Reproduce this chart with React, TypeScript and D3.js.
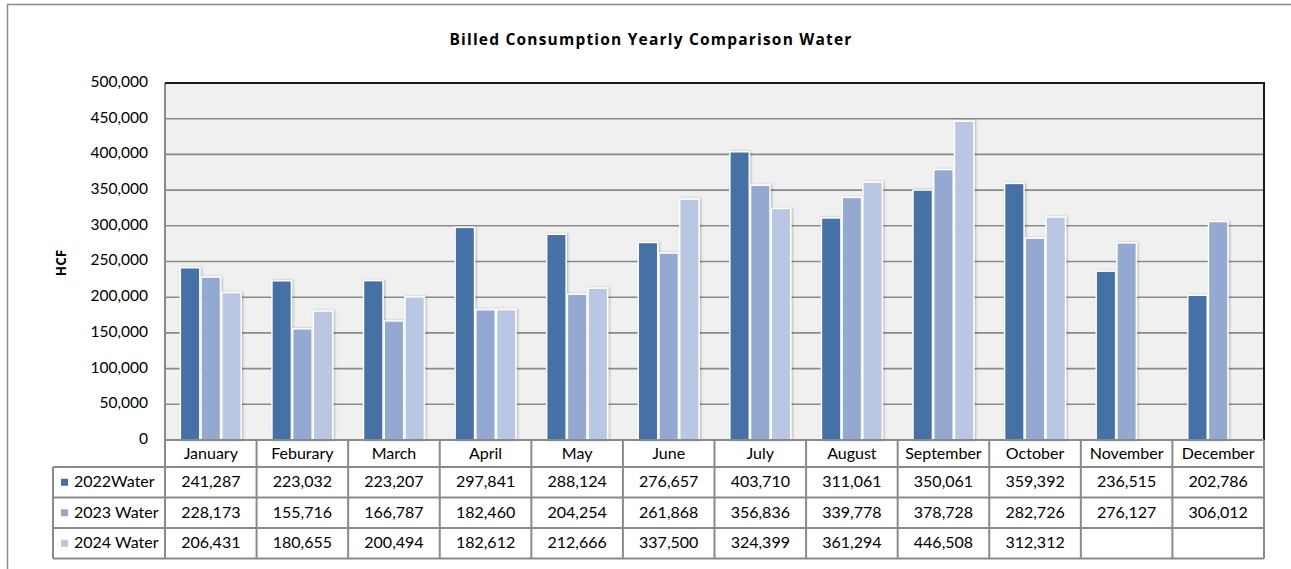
import { useRef, useEffect } from 'react';
import * as d3 from 'd3';

const months = ['January', 'Feburary', 'March', 'April', 'May', 'June', 'July', 'August', 'September', 'October', 'November', 'December'];
const seriesNames = ['2022Water', '2023 Water', '2024 Water'];
const water2022 = [241287, 223032, 223207, 297841, 288124, 276657, 403710, 311061, 350061, 359392, 236515, 202786];
const water2023 = [228173, 155716, 166787, 182460, 204254, 261868, 356836, 339778, 378728, 282726, 276127, 306012];
const water2024 = [206431, 180655, 200494, 182612, 212666, 337500, 324399, 361294, 446508, 312312, null, null];
const yTicks = [0, 50000, 100000, 150000, 200000, 250000, 300000, 350000, 400000, 450000, 500000];
const colors = ['#4571a7', '#94a9d1', '#b9c7e2'];

export default function App() {
  const svgRef = useRef(null);
  const W = 1291, H = 569;
  const font = 'Lato, "Open Sans", sans-serif';
  const titleFont = '"Open Sans", Lato, sans-serif';

  useEffect(() => {
    document.body.style.margin = '0';
    const svg = d3.select(svgRef.current);
    svg.selectAll('*').remove();

    const left = 165, right = 1264, top = 83, bottom = 440;
    const rowH = [27, 30.5, 30.5, 30.5];
    const legendLeft = 53;
    const fmt = d3.format(',');
    const all = [water2022, water2023, water2024];
    const fs = 16;

    const x = d3.scaleBand().domain(months).range([left, right]).paddingInner(0);
    const groupW = x.bandwidth() * 0.665;
    const x1 = d3.scaleBand().domain(seriesNames).range([0, groupW]).paddingInner(0.06);
    const y = d3.scaleLinear().domain([0, 500000]).range([bottom, top]);

    const defs = svg.append('defs');
    const f = defs.append('filter').attr('id', 'shadow').attr('x', '-30%').attr('y', '-10%').attr('width', '160%').attr('height', '120%');
    f.append('feDropShadow').attr('dx', 1.2).attr('dy', 0).attr('stdDeviation', 1.2).attr('flood-color', '#000').attr('flood-opacity', 0.25);

    // outer chart border
    svg.append('rect').attr('x', 7.5).attr('y', 4.5).attr('width', W).attr('height', H)
      .attr('fill', '#fff').attr('stroke', '#8c8c8c').attr('stroke-width', 1.5);

    // title
    svg.append('text').attr('x', 651).attr('y', 41).attr('text-anchor', 'middle').attr('dominant-baseline', 'middle')
      .attr('font-family', titleFont).attr('font-weight', 'bold').attr('font-size', 15.5).attr('letter-spacing', 1.2).attr('fill', '#000')
      .text('Billed Consumption Yearly Comparison Water');

    // plot background
    svg.append('rect').attr('x', left).attr('y', top).attr('width', right - left).attr('height', bottom - top).attr('fill', '#f0f0f0');

    // gridlines
    svg.append('g').selectAll('line').data(yTicks.filter(d => d > 0 && d < 500000)).join('line')
      .attr('x1', left).attr('x2', right).attr('y1', d => y(d)).attr('y2', d => y(d))
      .attr('stroke', '#8a8a8a').attr('stroke-width', 1.6);

    // y tick labels
    svg.append('g').selectAll('text').data(yTicks).join('text')
      .attr('x', 148).attr('y', d => y(d)).attr('text-anchor', 'end').attr('dominant-baseline', 'middle')
      .attr('font-family', font).attr('font-size', 15.5).attr('fill', '#000').text(d => fmt(d));

    // y label
    svg.append('text').attr('transform', 'translate(62,263) rotate(-90)').attr('text-anchor', 'middle').attr('dominant-baseline', 'middle')
      .attr('font-family', titleFont).attr('font-weight', 'bold').attr('font-size', 13.5).text('HCF');

    // bars
    const groups = svg.append('g').selectAll('g').data(months).join('g')
      .attr('transform', d => `translate(${x(d) + (x.bandwidth() - groupW) / 2},0)`);
    groups.selectAll('rect')
      .data((m, i) => seriesNames.map((s, k) => ({ s, k, v: all[k][i] })).filter(d => d.v != null))
      .join('rect')
      .attr('x', d => x1(d.s)).attr('width', x1.bandwidth())
      .attr('y', d => y(d.v)).attr('height', d => bottom - y(d.v))
      .attr('fill', d => colors[d.k]).attr('stroke', '#fff').attr('stroke-width', 1.5)
      .attr('filter', 'url(#shadow)');

    // plot borders
    svg.append('line').attr('x1', left).attr('x2', left).attr('y1', top).attr('y2', bottom).attr('stroke', '#8a8a8a').attr('stroke-width', 2);
    svg.append('line').attr('x1', left).attr('x2', right + 1).attr('y1', top).attr('y2', top).attr('stroke', '#1a1a1a').attr('stroke-width', 2);
    svg.append('line').attr('x1', right).attr('x2', right).attr('y1', top).attr('y2', bottom).attr('stroke', '#1a1a1a').attr('stroke-width', 2);

    // data table
    const rowY = [bottom];
    rowH.forEach(h => rowY.push(rowY[rowY.length - 1] + h));
    const tbl = svg.append('g');
    const lineC = '#8a8a8a';
    tbl.append('line').attr('x1', left).attr('x2', right).attr('y1', rowY[0]).attr('y2', rowY[0]).attr('stroke', lineC).attr('stroke-width', 2);
    rowY.slice(1).forEach(yy => {
      tbl.append('line').attr('x1', legendLeft).attr('x2', right).attr('y1', yy).attr('y2', yy).attr('stroke', lineC).attr('stroke-width', 2);
    });
    const xs = months.map(m => x(m)).concat([right]);
    xs.forEach(xx => {
      tbl.append('line').attr('x1', xx).attr('x2', xx).attr('y1', rowY[0]).attr('y2', rowY[4]).attr('stroke', lineC).attr('stroke-width', 2);
    });
    tbl.append('line').attr('x1', legendLeft).attr('x2', legendLeft).attr('y1', rowY[1]).attr('y2', rowY[4]).attr('stroke', lineC).attr('stroke-width', 2);

    // header
    tbl.selectAll('text.m').data(months).join('text').attr('class', 'm')
      .attr('x', d => x(d) + x.bandwidth() / 2).attr('y', (rowY[0] + rowY[1]) / 2 + 1)
      .attr('text-anchor', 'middle').attr('dominant-baseline', 'middle')
      .attr('font-family', font).attr('font-size', fs).text(d => d);

    // rows
    seriesNames.forEach((s, k) => {
      const cy = (rowY[k + 1] + rowY[k + 2]) / 2 + 1;
      tbl.append('rect').attr('x', 61).attr('y', cy - 4.5).attr('width', 7).attr('height', 7).attr('fill', colors[k]);
      tbl.append('text').attr('x', 74).attr('y', cy).attr('dominant-baseline', 'middle')
        .attr('font-family', font).attr('font-size', fs).text(s);
      tbl.selectAll(`text.v${k}`).data(all[k]).join('text').attr('class', `v${k}`)
        .attr('x', (d, i) => x(months[i]) + x.bandwidth() / 2).attr('y', cy)
        .attr('text-anchor', 'middle').attr('dominant-baseline', 'middle')
        .attr('font-family', font).attr('font-size', fs).text(d => (d == null ? '' : fmt(d)));
    });
  }, []);

  return (
    <div className="chart">
      <svg ref={svgRef} width={W} height={H} style={{ display: 'block' }} />
    </div>
  );
}
